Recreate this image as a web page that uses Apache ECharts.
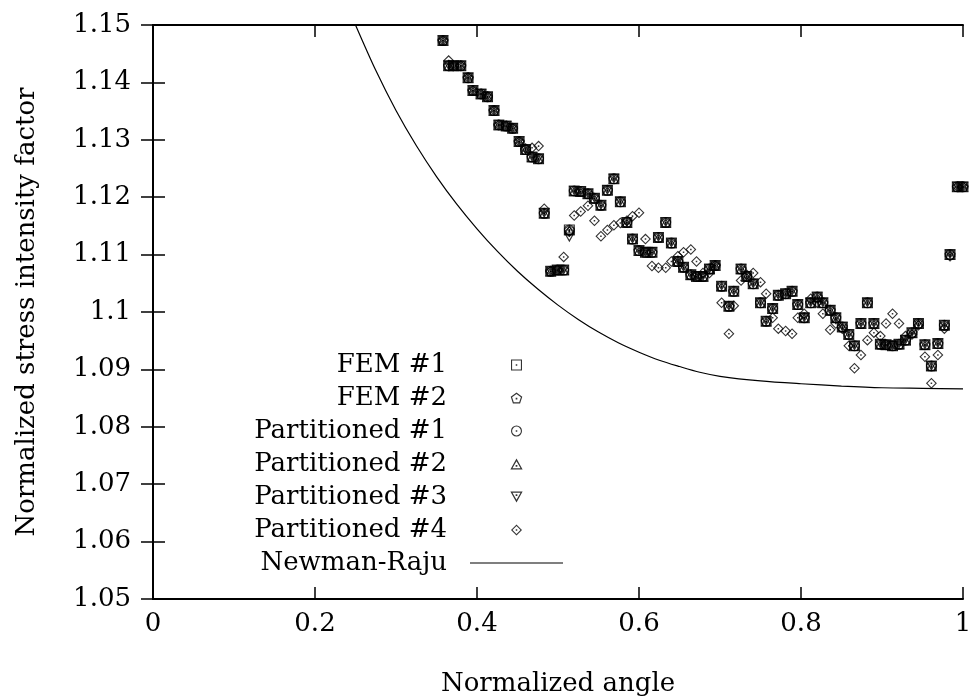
<!DOCTYPE html>
<html>
<head>
<meta charset="utf-8">
<script src="https://cdn.jsdelivr.net/npm/echarts@6/dist/echarts.min.js"></script>
<style>
  html, body { margin: 0; padding: 0; background: #fff; }
  #sif-chart { width: 973px; height: 700px; }
</style>
</head>
<body>
<div id="sif-chart"></div>
<script>
// normalized angle of each crack-front point
const angle = [
  0.358, 0.365, 0.371, 0.380, 0.389, 0.395, 0.405, 0.413, 0.421, 0.427,
  0.436, 0.444, 0.452, 0.460, 0.468, 0.476, 0.483, 0.491, 0.499, 0.507,
  0.514, 0.520, 0.528, 0.537, 0.545, 0.553, 0.561, 0.569, 0.577, 0.585,
  0.592, 0.600, 0.608, 0.616, 0.624, 0.633, 0.640, 0.648, 0.655, 0.664,
  0.671, 0.679, 0.687, 0.694, 0.702, 0.711, 0.717, 0.726, 0.733, 0.741,
  0.750, 0.757, 0.765, 0.772, 0.781, 0.789, 0.796, 0.804, 0.812, 0.820,
  0.827, 0.836, 0.843, 0.851, 0.859, 0.866, 0.874, 0.882, 0.890, 0.898,
  0.905, 0.913, 0.921, 0.929, 0.937, 0.945, 0.953, 0.961, 0.969, 0.977,
  0.984, 0.993, 1.000
];

// FEM #1, FEM #2, Partitioned #1 and #2 sit on top of each other in the plot
const femSif = [
  1.1473, 1.1429, 1.1429, 1.1429, 1.1408, 1.1386, 1.1380, 1.1375, 1.1351, 1.1326,
  1.1324, 1.1320, 1.1297, 1.1283, 1.1270, 1.1267, 1.1172, 1.1071, 1.1073, 1.1073,
  1.1143, 1.1211, 1.1210, 1.1206, 1.1198, 1.1186, 1.1212, 1.1232, 1.1192, 1.1156,
  1.1127, 1.1107, 1.1104, 1.1104, 1.1130, 1.1156, 1.1120, 1.1088, 1.1078, 1.1065,
  1.1062, 1.1062, 1.1075, 1.1081, 1.1045, 1.1010, 1.1036, 1.1075, 1.1062, 1.1049,
  1.1016, 1.0984, 1.1006, 1.1029, 1.1032, 1.1036, 1.1013, 1.0990, 1.1016, 1.1026,
  1.1016, 1.1003, 1.0990, 1.0974, 1.0961, 1.0941, 1.0980, 1.1016, 1.0980, 1.0944,
  1.0943, 1.0941, 1.0944, 1.0951, 1.0964, 1.0980, 1.0943, 1.0906, 1.0945, 1.0977,
  1.1100, 1.1218, 1.1218
];

const part3Sif = [
  1.1473, 1.1429, 1.1429, 1.1429, 1.1408, 1.1386, 1.1380, 1.1375, 1.1351, 1.1326,
  1.1324, 1.1320, 1.1297, 1.1283, 1.1270, 1.1267, 1.1172, 1.1071, 1.1073, 1.1073,
  1.1130, 1.1211, 1.1210, 1.1206, 1.1198, 1.1186, 1.1212, 1.1232, 1.1192, 1.1156,
  1.1127, 1.1107, 1.1104, 1.1104, 1.1130, 1.1156, 1.1120, 1.1088, 1.1078, 1.1065,
  1.1062, 1.1062, 1.1075, 1.1081, 1.1045, 1.1010, 1.1036, 1.1075, 1.1062, 1.1049,
  1.1016, 1.0984, 1.1006, 1.1029, 1.1032, 1.1036, 1.1013, 1.0990, 1.1016, 1.1026,
  1.1016, 1.1003, 1.0990, 1.0974, 1.0961, 1.0941, 1.0980, 1.1016, 1.0980, 1.0944,
  1.0943, 1.0941, 1.0944, 1.0951, 1.0964, 1.0980, 1.0943, 1.0906, 1.0945, 1.0977,
  1.1100, 1.1218, 1.1218
];

const part4Sif = [
  1.1473, 1.1438, 1.1429, 1.1429, 1.1408, 1.1386, 1.1380, 1.1375, 1.1351, 1.1326,
  1.1324, 1.1320, 1.1297, 1.1285, 1.1286, 1.1289, 1.1180, 1.1071, 1.1073, 1.1096,
  1.1140, 1.1168, 1.1175, 1.1185, 1.1159, 1.1132, 1.1143, 1.1151, 1.1155, 1.1159,
  1.1167, 1.1173, 1.1127, 1.1080, 1.1077, 1.1077, 1.1088, 1.1097, 1.1104, 1.1109,
  1.1088, 1.1068, 1.1068, 1.1081, 1.1016, 1.0962, 1.1011, 1.1055, 1.1065, 1.1068,
  1.1052, 1.1032, 1.0990, 1.0971, 1.0967, 1.0962, 1.0990, 1.0997, 1.1023, 1.1016,
  1.0997, 1.0969, 1.0980, 1.0971, 1.0941, 1.0902, 1.0925, 1.0951, 1.0964, 1.0958,
  1.0980, 1.0997, 1.0980, 1.0958, 1.0961, 1.0977, 1.0922, 1.0876, 1.0925, 1.0971,
  1.1097, 1.1218, 1.1218
];

// Newman-Raju solution
const nrAngle = [
  0.25, 0.275, 0.30, 0.325, 0.35, 0.375, 0.40, 0.425, 0.45, 0.475,
  0.50, 0.525, 0.55, 0.575, 0.60, 0.625, 0.65, 0.675, 0.70, 0.75,
  0.80, 0.85, 0.90, 0.95, 1.00
];
const nrSif = [
  1.1500, 1.1421, 1.1351, 1.1290, 1.1236, 1.1188, 1.1145, 1.1106, 1.1071, 1.1040,
  1.1012, 1.0987, 1.0965, 1.0946, 1.0930, 1.0916, 1.0905, 1.0895, 1.0888, 1.0880,
  1.0875, 1.0871, 1.0868, 1.0867, 1.0866
];

const seriesNames = ['FEM #1', 'FEM #2', 'Partitioned #1', 'Partitioned #2', 'Partitioned #3', 'Partitioned #4', 'Newman-Raju'];

// gnuplot-like open symbols with a centre dot
const symbols = {
  square: 'path://M0 0H10V10H0Z M1 1V9H9V1Z M4.3 4.3H5.7V5.7H4.3Z',
  pentagon: 'path://M5 0L9.755 3.455L7.939 9.045L2.061 9.045L0.245 3.455Z M5 1.2L1.386 3.826L2.766 8.074L7.234 8.074L8.614 3.826Z M4.3 4.3H5.7V5.7H4.3Z',
  circle: 'path://M0 5A5 5 0 1 1 10 5A5 5 0 1 1 0 5Z M1 5A4 4 0 1 0 9 5A4 4 0 1 0 1 5Z M4.3 4.3H5.7V5.7H4.3Z',
  triUp: 'path://M5 0L10 9L0 9Z M5 2.3L1.7 8L8.3 8Z M4.3 5.3H5.7V6.7H4.3Z',
  triDown: 'path://M0 0L10 0L5 9Z M1.7 1L5 6.7L8.3 1Z M4.3 2.3H5.7V3.7H4.3Z',
  diamond: 'path://M5 0L10 5L5 10L0 5Z M5 1.4L1.4 5L5 8.6L8.6 5Z M4.3 4.3H5.7V5.7H4.3Z',
  legendLine: 'path://M0 0H93V1.2H0Z'
};

const font = '"DejaVu Serif", "Liberation Serif", serif';

function pairs(xs, ys) {
  return xs.map((x, i) => [x, ys[i]]);
}

function scatter(name, symbol, values) {
  return {
    name: name,
    type: 'scatter',
    symbol: symbol,
    symbolSize: 11,
    symbolKeepAspect: true,
    itemStyle: { color: '#000' },
    data: pairs(angle, values),
  };
}

const axisCommon = {
  axisLine: { lineStyle: { color: '#000', width: 2 } },
  axisTick: { inside: true, length: 12, lineStyle: { color: '#000', width: 1.5 } },
  splitLine: { show: false },
};

const legendData = seriesNames.map((name) =>
  name === 'Newman-Raju' ? { name: name, icon: symbols.legendLine } : name
);

const chartOption = {
  animation: false,
  backgroundColor: '#fff',
  grid: { left: 153, right: 10, top: 25, bottom: 101, outerBoundsMode: 'none' },
  legend: {
    orient: 'vertical',
    align: 'right',
    right: 410,
    top: 352,
    padding: 0,
    itemWidth: 93,
    itemHeight: 11,
    itemGap: 7,
    symbolKeepAspect: true,
    selectedMode: false,
    data: legendData,
    textStyle: {
      fontFamily: font,
      fontSize: 26,
      lineHeight: 26,
      color: '#000',
      padding: [0, 18, 0, 0],
    },
  },
  xAxis: [
    {
      ...axisCommon,
      type: 'value',
      min: 0,
      max: 1,
      interval: 0.2,
      name: 'Normalized angle',
      nameLocation: 'middle',
      nameGap: 72,
      nameTextStyle: { fontFamily: font, fontSize: 26, color: '#000' },
      axisLabel: { fontFamily: font, fontSize: 26, color: '#000', margin: 12 },
    },
    {
      ...axisCommon,
      type: 'value',
      position: 'top',
      min: 0,
      max: 1,
      interval: 0.2,
      axisLabel: { show: false },
    },
  ],
  yAxis: [
    {
      ...axisCommon,
      type: 'value',
      min: 1.05,
      max: 1.15,
      interval: 0.01,
      name: 'Normalized stress intensity factor',
      nameLocation: 'middle',
      nameGap: 113,
      nameTextStyle: { fontFamily: font, fontSize: 26, color: '#000' },
      axisLabel: { fontFamily: font, fontSize: 26, color: '#000', margin: 22 },
    },
    {
      ...axisCommon,
      type: 'value',
      position: 'right',
      min: 1.05,
      max: 1.15,
      interval: 0.01,
      axisLabel: { show: false },
    },
  ],
  series: [
    scatter(seriesNames[0], symbols.square, femSif),
    scatter(seriesNames[1], symbols.pentagon, femSif),
    scatter(seriesNames[2], symbols.circle, femSif),
    scatter(seriesNames[3], symbols.triUp, femSif),
    scatter(seriesNames[4], symbols.triDown, part3Sif),
    scatter(seriesNames[5], symbols.diamond, part4Sif),
    {
      name: seriesNames[6],
      type: 'line',
      symbol: 'none',
      smooth: 0.3,
      lineStyle: { color: '#000', width: 1.2 },
      itemStyle: { color: '#000' },
      data: pairs(nrAngle, nrSif),
    },
  ],
};

const myChart = echarts.init(document.getElementById('sif-chart'));
myChart.setOption(chartOption);
</script>
</body>
</html>
